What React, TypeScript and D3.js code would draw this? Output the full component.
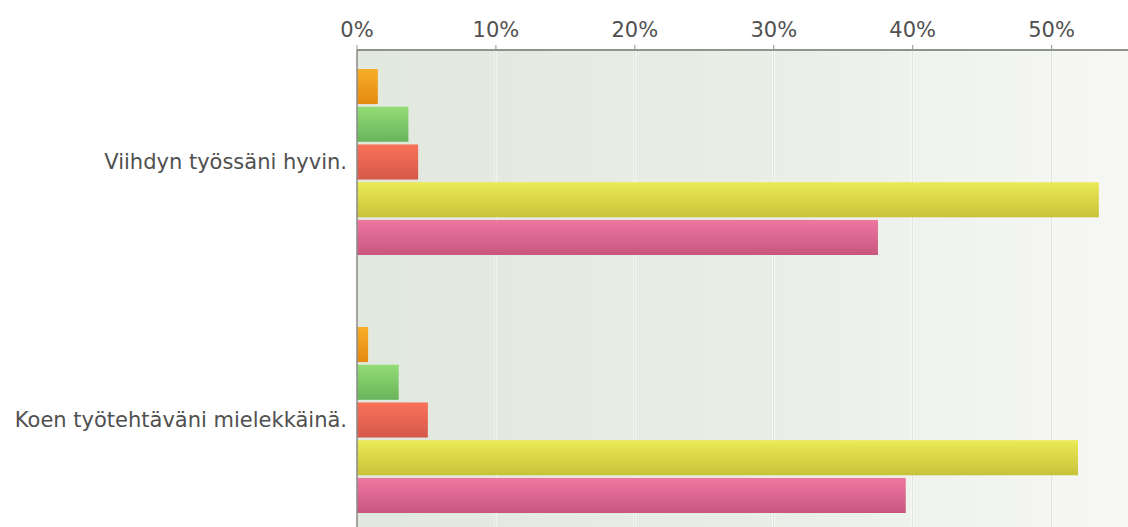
import React from "react";
import * as d3 from "d3";

const categories = ["Viihdyn työssäni hyvin.", "Koen työtehtäväni mielekkäinä."];
const seriesNames = ["Täysin eri mieltä", "Jokseenkin eri mieltä", "En osaa sanoa", "Jokseenkin samaa mieltä", "Täysin samaa mieltä"];
const valuesViihdyn = [0.015, 0.037, 0.044, 0.534, 0.375];
const valuesKoen = [0.008, 0.030, 0.051, 0.519, 0.395];
const tickValues = [0, 0.1, 0.2, 0.3, 0.4, 0.5];
const seriesColors = [
  ["#f7ae2a", "#e3890f"],
  ["#93dc76", "#69b45b"],
  ["#f87258", "#d6584a"],
  ["#ecea56", "#c8c23a"],
  ["#ee77a0", "#c7567f"],
];

const W = 1128;
const H = 527;

export default function App() {
  const data = [valuesViihdyn, valuesKoen];
  const x = d3.scaleLinear().domain([0, 0.555]).range([357, 1128]);
  const y = d3.scaleBand<string>().domain(categories).range([33, 549]);
  const inner = d3
    .scaleBand<string>()
    .domain(seriesNames)
    .range([-93, 93])
    .paddingInner(0.07);
  const top = 50;
  const fmt = d3.format(".0%");

  return (
    <svg
      width={W}
      height={H}
      style={{ position: "absolute", left: 0, top: 0, background: "#fff" }}
      fontFamily="'DejaVu Sans', Verdana, sans-serif"
    >
      <defs>
        <linearGradient id="bg" x1="0" x2="1" y1="0" y2="0">
          <stop offset="0" stopColor="#e1e8de" />
          <stop offset="0.5" stopColor="#e9ede6" />
          <stop offset="1" stopColor="#f7f8f5" />
        </linearGradient>
        {seriesColors.map((c, i) => (
          <linearGradient key={i} id={`g${i}`} x1="0" x2="0" y1="0" y2="1">
            <stop offset="0" stopColor={c[0]} />
            <stop offset="1" stopColor={c[1]} />
          </linearGradient>
        ))}
      </defs>
      <rect x={x(0)} y={top} width={W - x(0)} height={H - top} fill="url(#bg)" />
      {tickValues.slice(1).map((t) => (
        <g key={t}>
          <line x1={x(t) - 1} x2={x(t) - 1} y1={top} y2={H} stroke="#f6f8f4" strokeWidth={1} />
          <line x1={x(t)} x2={x(t)} y1={top} y2={H} stroke="#dfe2dc" strokeWidth={1} />
          <line x1={x(t) + 1} x2={x(t) + 1} y1={top} y2={H} stroke="#f6f8f4" strokeWidth={1} />
        </g>
      ))}
      {categories.map((cat, ci) => {
        const cy = (y(cat) as number) + y.bandwidth() / 2;
        return (
          <g key={cat}>
            {seriesNames.map((s, si) => (
              <rect
                key={s}
                x={x(0)}
                y={cy + (inner(s) as number)}
                width={x(data[ci][si]) - x(0)}
                height={inner.bandwidth()}
                fill={`url(#g${si})`}
              />
            ))}
            <text
              x={x(0) - 10}
              y={cy}
              dy="0.35em"
              textAnchor="end"
              fontSize={21}
              fill="#505050"
            >
              {cat}
            </text>
          </g>
        );
      })}
      <line x1={x(0)} x2={W} y1={top} y2={top} stroke="#8f958c" strokeWidth={2} />
      <line x1={x(0)} x2={x(0)} y1={top} y2={H} stroke="#8a8a8a" strokeWidth={1.5} />
      {tickValues.map((t) => (
        <g key={t}>
          <line x1={x(t)} x2={x(t)} y1={top - 5} y2={top} stroke="#8f958c" strokeWidth={1} />
          <text x={x(t)} y={37} textAnchor="middle" fontSize={21} fill="#505050">
            {fmt(t)}
          </text>
        </g>
      ))}
    </svg>
  );
}
